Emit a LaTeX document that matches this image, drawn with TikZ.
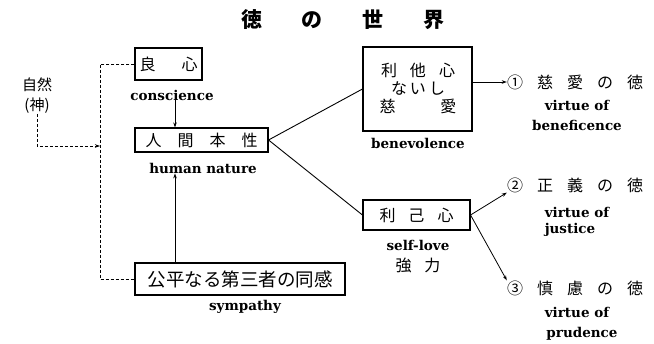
\documentclass[tikz,border=0pt]{standalone}
\usepackage{fontspec}
\newfontfamily\cjk{Noto Sans CJK JP}
\newfontfamily\enf{DejaVu Serif}
\usetikzlibrary{arrows.meta}
\begin{document}
\begin{tikzpicture}[x=1pt,y=-1pt,
  box/.style={draw, line width=1.1pt, inner sep=0pt, font=\cjk\fontsize{16}{16}\selectfont},
  jp/.style={inner sep=0pt, font=\cjk\fontsize{16}{18}\selectfont},
  en/.style={inner sep=0pt, font=\enf\bfseries\fontsize{13.5}{16}\selectfont},
  dashline/.style={dash pattern=on 3pt off 2pt, line width=0.8pt},
  arr/.style={-{Stealth[length=5pt,width=3.5pt]}, line width=0.8pt},
  conn/.style={line width=0.9pt}]
\useasboundingbox (0,0) rectangle (654,344);
\coordinate (ax) at (175,0);
\coordinate (dj) at (100,146);
% title
\node[inner sep=0pt, font=\cjk\bfseries\fontsize{21}{21}\selectfont] (title) at (343,20) {徳\hspace{40pt}の\hspace{40pt}世\hspace{40pt}界};
% left column
\node[box, minimum width=67pt, minimum height=32pt] (ryo) at (168.5,64) {良\hspace{26pt}心};
\node[en] (consc) at (172,95) {conscience};
\node[box, minimum width=133pt, minimum height=24pt] (nin) at (201.5,140) {人\hspace{16pt}間\hspace{16pt}本\hspace{16pt}性};
\node[en] (hum) at (203,168) {human nature};
\node[box, minimum width=210pt, minimum height=32pt, font=\cjk\fontsize{18.5}{18.5}\selectfont] (kou) at (240,279) {公平なる第三者の同感};
\node[en] (sym) at (245,307) {sympathy};
\node[jp, font=\cjk\fontsize{15}{15}\selectfont] (shi) at (37,85) {自然};
\node[jp, font=\cjk\fontsize{15}{15}\selectfont] (kami) at (37,106) {(神)};
% middle column
\node[box, minimum width=109pt, minimum height=84pt] (ben) at (417.5,89) {};
\node[jp] (ben1) at (418,70) {利\hspace{13pt}他\hspace{13pt}心};
\node[jp] (ben2) at (418,88) {な\hspace{3pt}い\hspace{3pt}し};
\node[jp] (ben3) at (418,106) {慈\hspace{45pt}愛};
\node[en] (benl) at (418,143) {benevolence};
\node[box, minimum width=107pt, minimum height=30pt] (ri) at (416.5,215) {利\hspace{13pt}己\hspace{13pt}心};
\node[en] (sl) at (418,245) {self-love};
\node[jp] (kyo) at (418,265) {強\hspace{13pt}力};
% right column
\node[jp] (v1) at (575,82) {①\hspace{14pt}慈\hspace{14pt}愛\hspace{14pt}の\hspace{14pt}徳};
\node[en] (v1a) at (577,105) {virtue of};
\node[en] (v1b) at (577,125) {beneficence};
\node[jp] (v2) at (575,185) {②\hspace{14pt}正\hspace{14pt}義\hspace{14pt}の\hspace{14pt}徳};
\node[en] (v2a) at (577,212) {virtue of};
\node[en] (v2b) at (570,230) {justice};
\node[jp] (v3) at (575,288) {③\hspace{14pt}慎\hspace{14pt}慮\hspace{14pt}の\hspace{14pt}徳};
\node[en] (v3a) at (577,312) {virtue of};
\node[en] (v3b) at (582,334) {prudence};
% connectors
\draw[arr] (consc.south -| ax) -- (nin.north -| ax);
\draw[arr] (kou.north -| ax) -- (hum.south -| ax);
\draw[dashline] (ryo.west) -- (ryo.west -| dj) |- (kou.west);
\draw[dashline, -{Stealth[length=5pt,width=3.5pt]}] (kami.south) |- (dj);
\draw[conn] (nin.east) -- (ben.west);
\draw[conn] (nin.east) -- (ri.west);
\draw[arr] (ben.east |- v1.west) -- (v1.west);
\draw[arr] (ri.east) -- (v2.south west);
\draw[arr] (ri.east) -- (v3.north west);
\end{tikzpicture}
\end{document}
